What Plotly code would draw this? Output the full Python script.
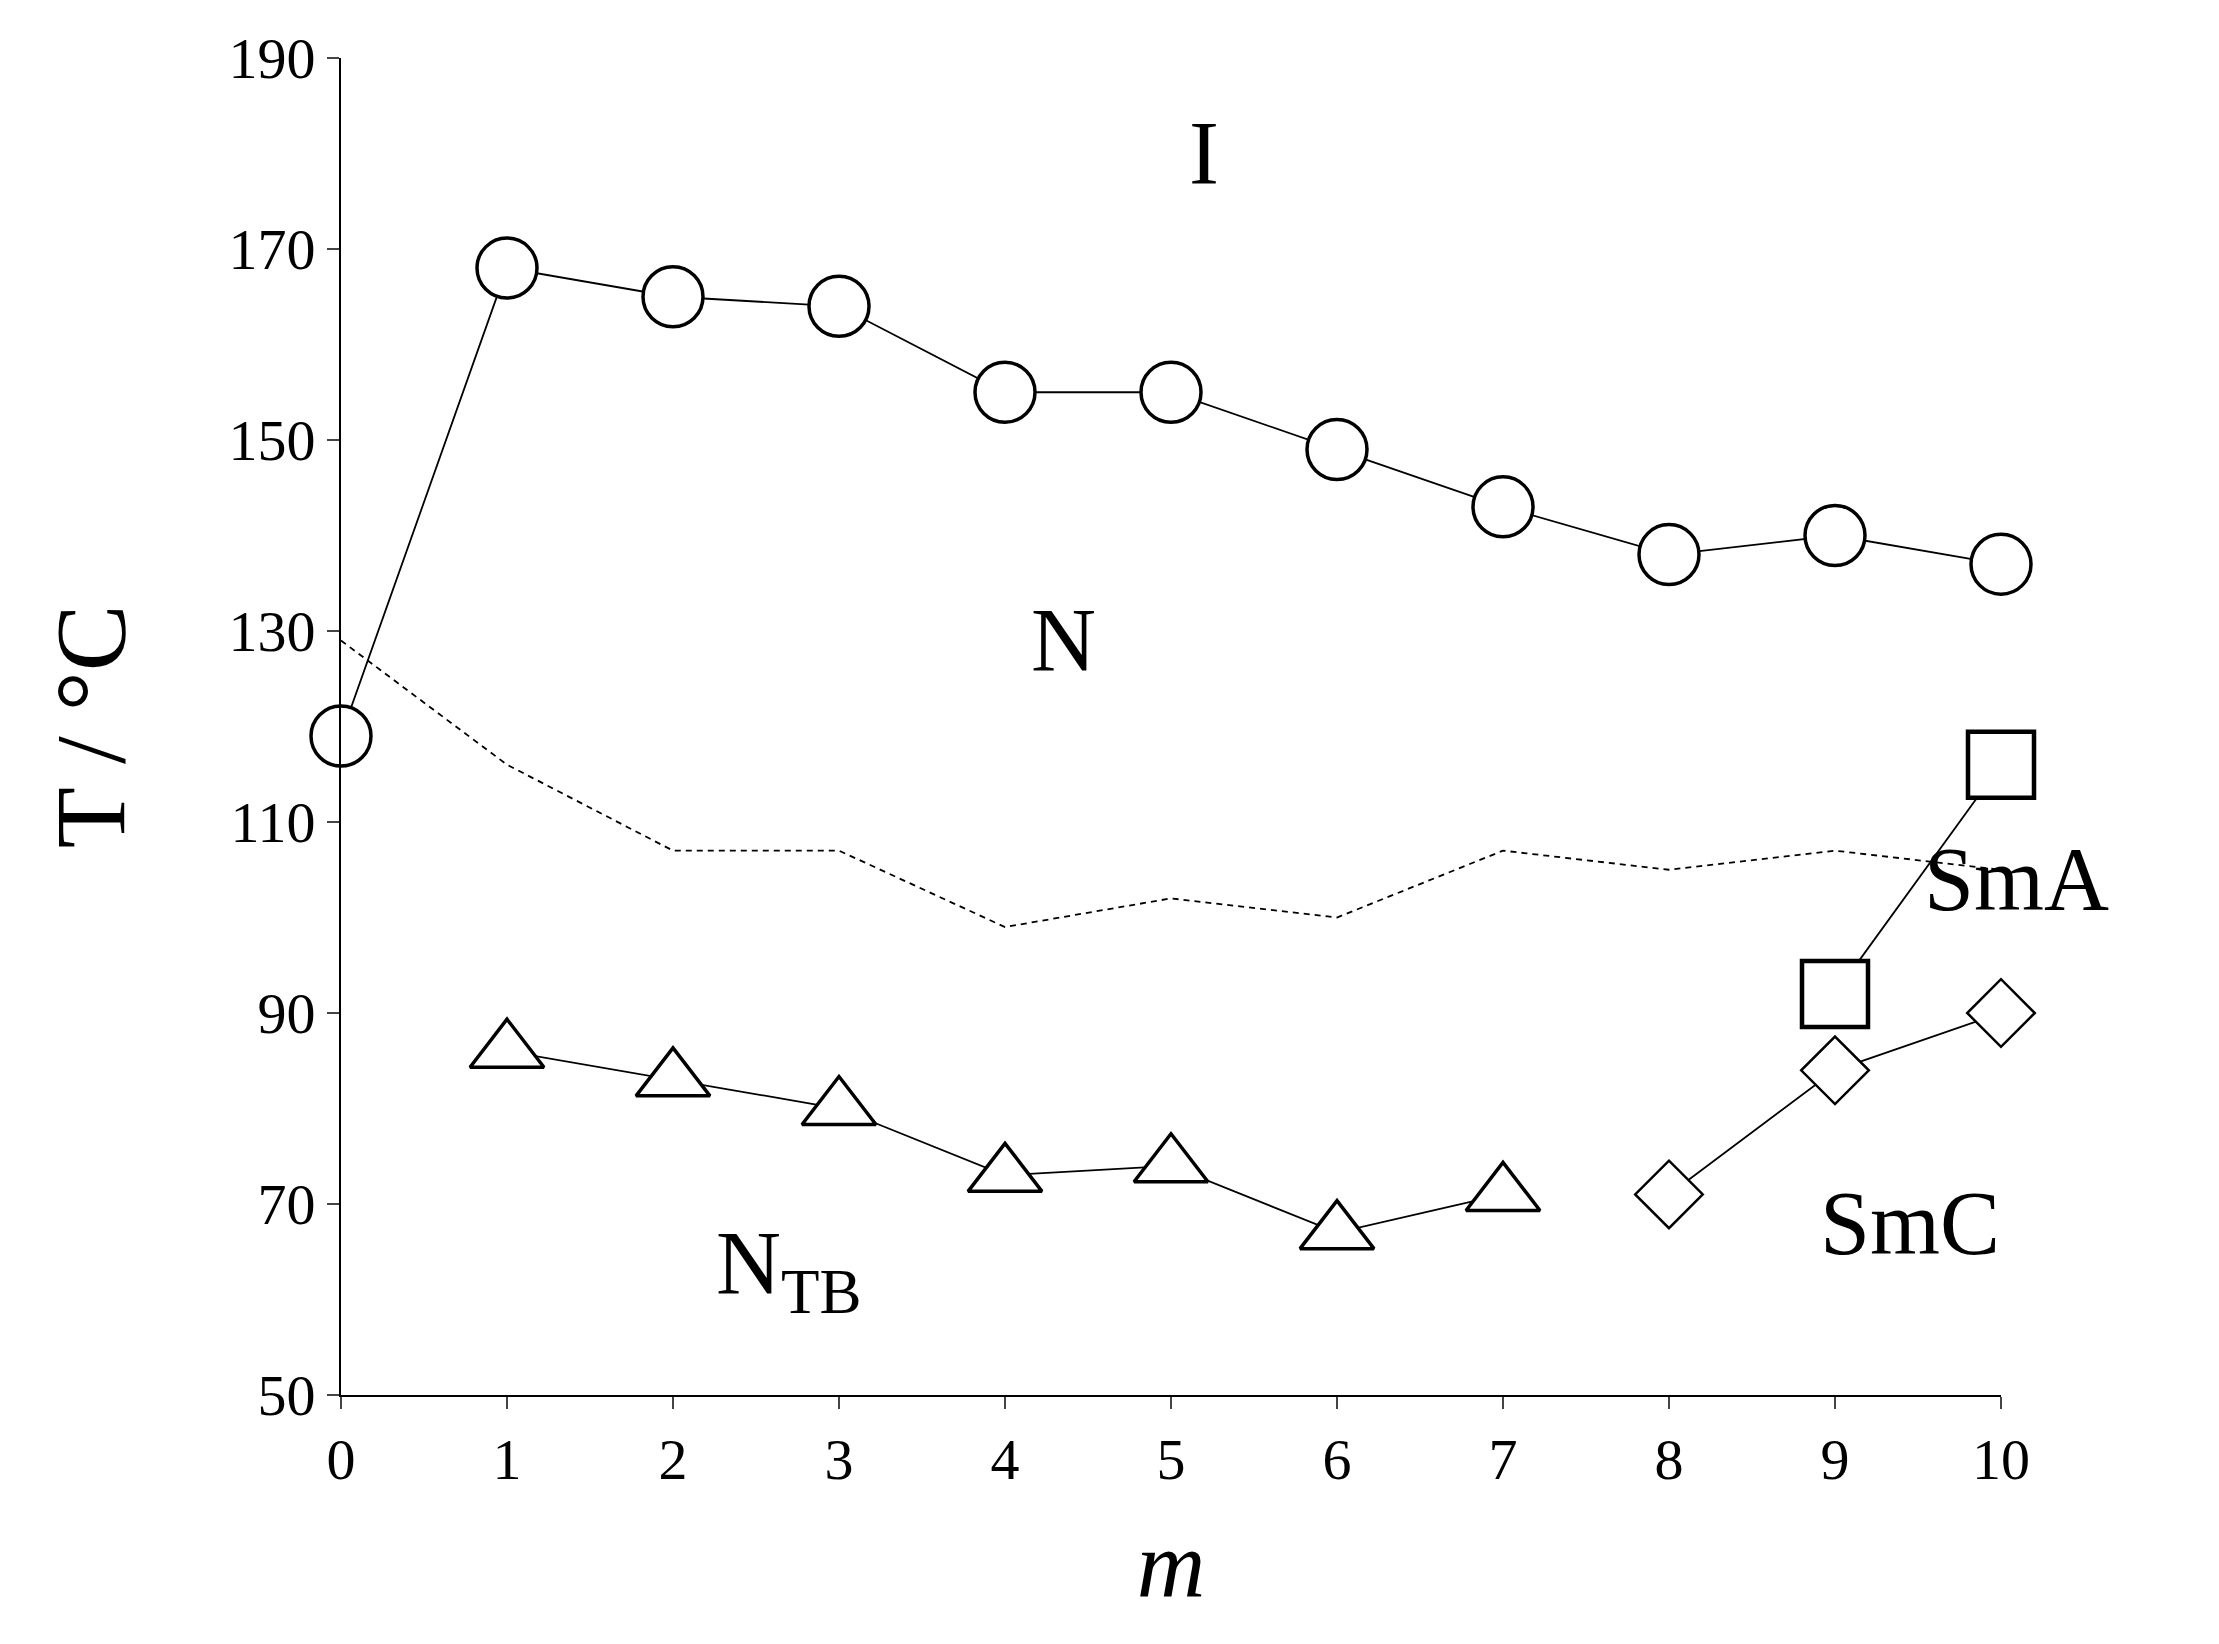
import plotly.graph_objects as go

m_all = list(range(11))
t_iso = [119, 168, 165, 164, 155, 155, 149, 143, 138, 140, 137]
t_dash = [129, 116, 107, 107, 99, 102, 100, 107, 105, 107, 105]
m_tb = [1, 2, 3, 4, 5, 6, 7]
t_tb = [86, 83, 80, 73, 74, 67, 71]
m_smc = [8, 9, 10]
t_smc = [71, 84, 90]
m_sma = [9, 10]
t_sma = [92, 116]
y_ticks = [50, 70, 90, 110, 130, 150, 170, 190]

F = "Liberation Serif, Times New Roman, serif"
fig = go.Figure()
fig.add_trace(go.Scatter(x=m_all, y=t_dash, mode="lines",
                         line=dict(color="black", width=1.8, dash="6px,5px")))
fig.add_trace(go.Scatter(x=m_all, y=t_iso, mode="lines+markers",
                         line=dict(color="black", width=1.8),
                         marker=dict(symbol="circle", size=60, color="white",
                                     line=dict(color="black", width=3.5))))
fig.add_trace(go.Scatter(x=m_tb, y=t_tb, mode="lines+markers",
                         line=dict(color="black", width=1.8),
                         marker=dict(symbol="triangle-up", size=64, color="white",
                                     line=dict(color="black", width=3.5))))
fig.add_trace(go.Scatter(x=m_smc, y=t_smc, mode="lines+markers",
                         line=dict(color="black", width=1.8),
                         marker=dict(symbol="diamond", size=52, color="white",
                                     line=dict(color="black", width=2.5))))
fig.add_trace(go.Scatter(x=m_sma, y=t_sma, mode="lines+markers",
                         line=dict(color="black", width=1.8),
                         marker=dict(symbol="square", size=66, color="white",
                                     line=dict(color="black", width=4.5))))

labels = [(5.2, 180, "I"), (4.35, 129, "N"), (9.45, 68, "SmC"),
          (2.7, 63, "N<sub>TB</sub>")]
for x, y, t in labels:
    fig.add_annotation(x=x, y=y, text=t, showarrow=False,
                       font=dict(family=F, size=90, color="black"))
fig.add_annotation(x=1.066, xref="paper", y=104, text="SmA", showarrow=False,
                   font=dict(family=F, size=90, color="black"))

fig.update_layout(
    width=2219, height=1644, showlegend=False,
    paper_bgcolor="white", plot_bgcolor="white",
    margin=dict(l=333, r=226, t=50, b=257),
    font=dict(family=F, color="black"),
    xaxis=dict(range=[0, 10], tickvals=m_all, ticks="outside", ticklen=12,
               tickwidth=2, showline=True, linewidth=2, linecolor="black",
               showgrid=False, zeroline=False, tickfont=dict(size=58, family=F),
               title=dict(text="<i>m</i>", font=dict(size=95, family=F), standoff=40)),
    yaxis=dict(range=[50, 190], tickvals=y_ticks, ticks="outside", ticklen=12,
               tickwidth=2, showline=True, linewidth=2, linecolor="black",
               showgrid=False, zeroline=False, tickfont=dict(size=58, family=F),
               title=dict(text="T / °C", font=dict(size=100, family=F), standoff=70)),
)
fig.update_traces(cliponaxis=False)
fig.write_html("out.html")
